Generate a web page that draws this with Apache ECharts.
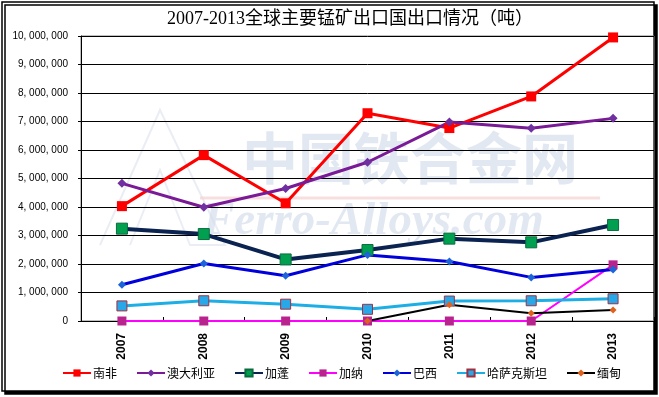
<!DOCTYPE html>
<html>
<head>
<meta charset="utf-8">
<script src="https://cdn.jsdelivr.net/npm/echarts@6/dist/echarts.min.js"></script>
<style>
  html, body { margin: 0; padding: 0; background: #fff; }
  #chart { width: 659px; height: 397px; }
</style>
</head>
<body>
<div id="chart"></div>
<script>
const years = ["2007", "2008", "2009", "2010", "2011", "2012", "2013"];

const southAfrica = [4030000, 5820000, 4130000, 7290000, 6770000, 7880000, 9950000];
const australia = [4830000, 3990000, 4650000, 5570000, 6980000, 6760000, 7110000];
const gabon = [3240000, 3050000, 2160000, 2490000, 2890000, 2760000, 3370000];
const ghana = [0, 0, 0, 0, 0, 0, 1970000];
const brazil = [1270000, 2020000, 1590000, 2320000, 2090000, 1530000, 1810000];
const kazakhstan = [530000, 710000, 590000, 410000, 700000, 710000, 780000];
const myanmar = [null, null, null, 0, 570000, 270000, 390000];

const yTicks = { min: 0, max: 10000000, interval: 1000000 };

const formatNumber = (value) => value.toLocaleString("en-US").replace(/,/g, ", ");

function lineSeries(name, data, lineColor, lineWidth, symbol, symbolSize, fill, border) {
  return {
    name,
    type: "line",
    data,
    symbol,
    symbolSize,
    showAllSymbol: true,
    lineStyle: { color: lineColor, width: lineWidth },
    itemStyle: {
      color: fill,
      borderColor: border || fill,
      borderWidth: border ? 1 : 0,
    },
    emphasis: { disabled: true },
    animation: false,
  };
}

const chart = echarts.init(document.getElementById("chart"), undefined, { renderer: "canvas" });

chart.setOption({
  backgroundColor: "#fff",
  animation: false,
  title: {
    text: "2007-2013全球主要锰矿出口国出口情况（吨）",
    left: 162,
    top: 5,
    textStyle: {
      fontFamily: "Liberation Serif, Noto Sans CJK SC",
      fontSize: 18,
      fontWeight: "normal",
      color: "#000",
    },
  },
  graphic: [
    {
      type: "rect",
      z: -10,
      shape: { x: 2, y: 2, width: 652, height: 389 },
      style: {
        fill: "#fff",
        stroke: "#000",
        lineWidth: 1.5,
        shadowColor: "#000",
        shadowOffsetX: 3,
        shadowOffsetY: 3,
        shadowBlur: 0,
      },
    },
    {
      type: "polyline",
      z: -5,
      shape: { points: [[100, 245], [160, 110], [225, 245], [190, 245], [160, 170], [130, 245]] },
      style: { fill: null, stroke: "rgba(225,230,238,0.7)", lineWidth: 2 },
    },
    {
      type: "text",
      z: -5,
      left: 242,
      top: 130,
      style: {
        text: "中国铁合金网",
        font: "bold 56px 'Noto Sans CJK SC'",
        fill: "rgba(210,220,234,0.65)",
      },
    },
    {
      type: "line",
      z: -5,
      shape: { x1: 200, y1: 198, x2: 600, y2: 198 },
      style: { stroke: "rgba(245,210,210,0.7)", lineWidth: 3 },
    },
    {
      type: "text",
      z: -5,
      left: 203,
      top: 198,
      style: {
        text: "Ferro-Alloys.com",
        font: "italic bold 47px 'Liberation Serif'",
        fill: "rgba(210,220,234,0.65)",
      },
    },
  ],
  legend: {
    left: 57,
    top: 362,
    itemWidth: 28,
    itemHeight: 9,
    itemGap: 19,
    textStyle: {
      fontFamily: "Noto Sans CJK SC",
      fontSize: 12,
      color: "#000",
      padding: [0, 0, 0, -3],
    },
    data: ["南非", "澳大利亚", "加蓬", "加纳", "巴西", "哈萨克斯坦", "缅甸"],
  },
  grid: {
    left: 81,
    right: 5,
    top: 36,
    bottom: 76,
    show: true,
    borderColor: "#808080",
    borderWidth: 1,
    backgroundColor: "transparent",
  },
  xAxis: {
    type: "category",
    data: years,
    boundaryGap: true,
    axisLine: { lineStyle: { color: "#000", width: 1 } },
    axisTick: {
      show: true,
      inside: true,
      length: 4,
      alignWithLabel: false,
      lineStyle: { color: "#000" },
    },
    axisLabel: {
      rotate: 90,
      margin: 12,
      fontFamily: "Liberation Sans",
      fontWeight: "bold",
      fontSize: 12,
      color: "#000",
    },
    splitLine: { show: false },
  },
  yAxis: {
    type: "value",
    min: yTicks.min,
    max: yTicks.max,
    interval: yTicks.interval,
    axisLine: { show: true, lineStyle: { color: "#000", width: 1 } },
    axisTick: { show: true, length: 3, lineStyle: { color: "#000" } },
    axisLabel: {
      margin: 13,
      fontFamily: "Liberation Sans",
      fontSize: 10,
      color: "#000",
      formatter: formatNumber,
    },
    splitLine: { show: true, lineStyle: { color: "#000", width: 1 } },
  },
  series: [
    lineSeries("南非", southAfrica, "#FF0000", 3, "rect", 10, "#FF0000"),
    lineSeries("澳大利亚", australia, "#7A1A96", 3, "diamond", 9, "#7030A0"),
    lineSeries("加蓬", gabon, "#0B2350", 4, "rect", 11, "#00A050", "#0B6B3F"),
    lineSeries("加纳", ghana, "#FF00FF", 2, "rect", 9, "#B8238E"),
    lineSeries("巴西", brazil, "#0000DD", 3, "diamond", 8, "#1E64D8"),
    lineSeries("哈萨克斯坦", kazakhstan, "#1EAEE6", 3, "rect", 10, "#28A8E8", "#A03040"),
    lineSeries("缅甸", myanmar, "#000000", 2, "diamond", 7, "#E0601E"),
  ],
});

window.addEventListener("resize", () => chart.resize());
</script>
</body>
</html>
